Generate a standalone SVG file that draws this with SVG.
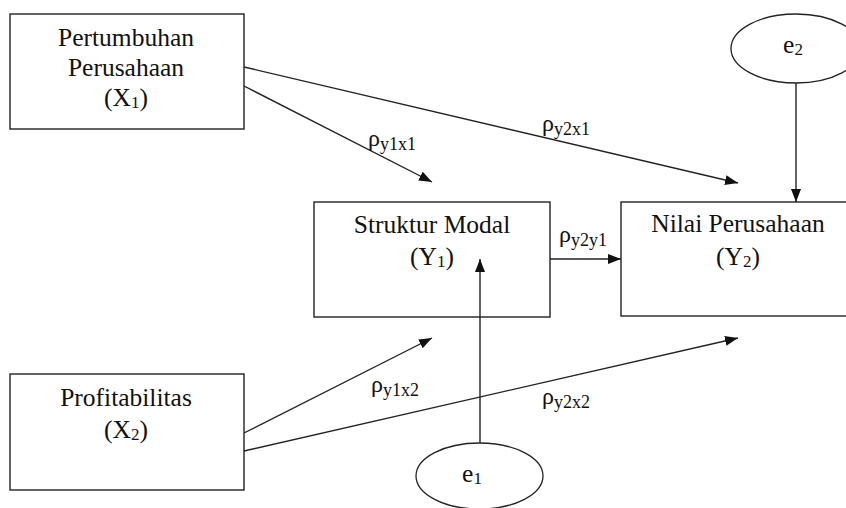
<svg xmlns="http://www.w3.org/2000/svg" width="846" height="508" viewBox="0 0 846 508">
  <style>
    .box { fill: #ffffff; stroke: #222; stroke-width: 1.4; }
    .oval { fill: #ffffff; stroke: #222; stroke-width: 1.3; }
    .lbl { font-family: 'Liberation Serif', 'DejaVu Serif', 'Times New Roman', serif; font-size: 25.5px; fill: #111; text-anchor: middle; }
    .sub { font-size: 17px; }
    .coef { font-family: 'Liberation Serif', 'DejaVu Serif', 'Times New Roman', serif; font-size: 24px; fill: #111; }
    .coef tspan { font-size: 18px; }
    .edge { stroke: #222; stroke-width: 1.4; fill: none; marker-end: url(#arrow); }
  </style>
  <defs>
    <marker id="arrow" markerUnits="userSpaceOnUse" markerWidth="14" markerHeight="11" refX="13" refY="5" orient="auto">
      <path d="M0,0 L13,5 L0,10 z" fill="#111"/>
    </marker>
  </defs>
  <rect width="846" height="508" fill="#ffffff"/>

  <g id="x1">
    <rect class="box" x="10" y="14" width="234" height="115"/>
    <text class="lbl" x="126" y="46">Pertumbuhan</text>
    <text class="lbl" x="126" y="76">Perusahaan</text>
    <text class="lbl" x="126" y="106">(X<tspan class="sub" dy="2">1</tspan><tspan dy="-2">)</tspan></text>
  </g>

  <g id="y1">
    <rect class="box" x="314" y="202" width="236" height="115"/>
    <text class="lbl" x="432" y="233">Struktur Modal</text>
    <text class="lbl" x="432" y="265">(Y<tspan class="sub" dy="2">1</tspan><tspan dy="-2">)</tspan></text>
  </g>

  <g id="y2">
    <rect class="box" x="621" y="202" width="234" height="114"/>
    <text class="lbl" x="738" y="232">Nilai Perusahaan</text>
    <text class="lbl" x="738" y="265">(Y<tspan class="sub" dy="2">2</tspan><tspan dy="-2">)</tspan></text>
  </g>

  <g id="x2">
    <rect class="box" x="10" y="374" width="234" height="116"/>
    <text class="lbl" x="126" y="406">Profitabilitas</text>
    <text class="lbl" x="126" y="438">(X<tspan class="sub" dy="2">2</tspan><tspan dy="-2">)</tspan></text>
  </g>

  <g id="e2">
    <ellipse class="oval" cx="796" cy="48.5" rx="65" ry="34.5"/>
    <text class="lbl" x="793" y="53">e<tspan class="sub" dy="2">2</tspan></text>
  </g>

  <g id="e1">
    <ellipse class="oval" cx="479.5" cy="476" rx="63.5" ry="33"/>
    <text class="lbl" x="472" y="482">e<tspan class="sub" dy="2">1</tspan></text>
  </g>

  <g id="connectors">
    <line class="edge" x1="244" y1="86" x2="432" y2="182"/>
    <line class="edge" x1="244" y1="67" x2="738" y2="183"/>
    <line class="edge" x1="550" y1="259" x2="621" y2="259"/>
    <line class="edge" x1="796" y1="83" x2="796" y2="202"/>
    <line class="edge" x1="480" y1="443" x2="480" y2="259"/>
    <line class="edge" x1="244" y1="433" x2="432" y2="338"/>
    <line class="edge" x1="244" y1="451" x2="738" y2="338"/>
    <text class="coef" x="368" y="146">ρ<tspan dy="4">y1x1</tspan></text>
    <text class="coef" x="542" y="131">ρ<tspan dy="4">y2x1</tspan></text>
    <text class="coef" x="559" y="242">ρ<tspan dy="4">y2y1</tspan></text>
    <text class="coef" x="371" y="392">ρ<tspan dy="4">y1x2</tspan></text>
    <text class="coef" x="542" y="404">ρ<tspan dy="4">y2x2</tspan></text>
  </g>
</svg>
